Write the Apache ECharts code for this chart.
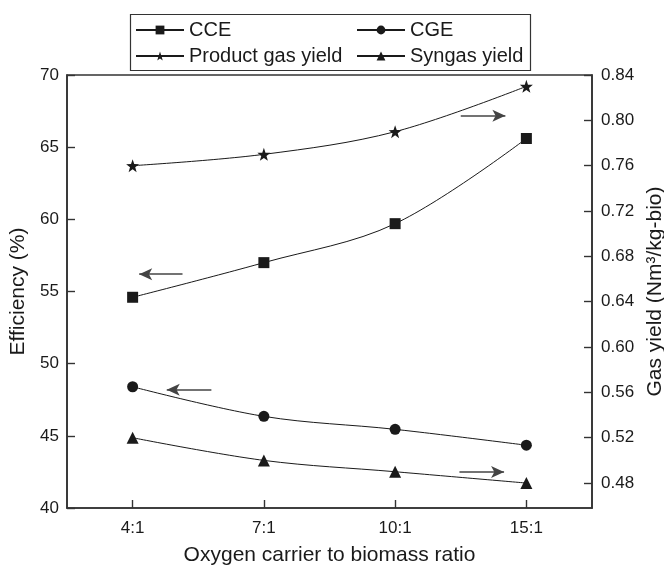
<!DOCTYPE html>
<html>
<head>
<meta charset="utf-8">
<script src="https://cdn.jsdelivr.net/npm/echarts@6/dist/echarts.min.js"></script>
<style>
html,body{margin:0;padding:0;background:#fff;}
#chart{width:664px;height:566px;}
</style>
</head>
<body>
<div id="chart"></div>
<script>
// ---- data ----
const categories = ['4:1', '7:1', '10:1', '15:1'];
const cce = [54.6, 57.0, 59.7, 65.6];            // Efficiency (%), left axis
const cge = [48.4, 46.35, 45.45, 44.35];         // Efficiency (%), left axis
const productGasYield = [0.76, 0.77, 0.79, 0.83]; // Nm3/kg-bio, right axis
const syngasYield = [0.52, 0.50, 0.49, 0.48];     // Nm3/kg-bio, right axis
const leftTicks = [40, 45, 50, 55, 60, 65, 70];
const rightTicks = [0.48, 0.52, 0.56, 0.60, 0.64, 0.68, 0.72, 0.76, 0.80, 0.84];
// annotation arrows: [xStart, xEnd, y] in data units (x = category index)
const arrowCCE = [0.38, 0.05, 56.2];
const arrowCGE = [0.60, 0.26, 48.2];
const arrowProduct = [2.50, 2.84, 0.804];
const arrowSyngas = [2.49, 2.83, 0.4898];

const starPath = 'path://M50 0 L61.76 33.82 L97.55 34.55 L69.02 56.18 L79.39 90.45 L50 70 L20.61 90.45 L30.98 56.18 L2.45 34.55 L38.24 33.82 Z';
const FONT = 'Liberation Sans';
const INK = '#1a1a1a';

function pairs(vals) { return vals.map((v, i) => [i, v]); }
function arrowLine(a) {
  return {
    silent: true,
    symbol: ['none', 'arrow'],
    symbolSize: [9, 13],
    label: { show: false },
    lineStyle: { color: '#444', width: 1.6, type: 'solid' },
    emphasis: { disabled: true },
    animation: false,
    data: [[{ coord: [a[0], a[2]] }, { coord: [a[1], a[2]] }]]
  };
}

const chart = echarts.init(document.getElementById('chart'));
const axisLine = { show: true, onZero: false, lineStyle: { color: '#333', width: 1.6 } };
const tickStyle = { inside: true, length: 8, lineStyle: { color: '#333', width: 1.4 } };

const option = {
  animation: false,
  backgroundColor: '#fff',
  textStyle: { fontFamily: FONT },
  grid: { left: 67, right: 72, top: 75, bottom: 58, containLabel: false, outerBoundsMode: 'none', show: true, borderColor: '#333', borderWidth: 1.6, backgroundColor: 'transparent' },
  legend: [
    {
      data: ['CCE', 'Product gas yield'],
      orient: 'vertical', left: 130, top: 15,
      itemWidth: 48, itemHeight: 11, itemGap: 6,
      textStyle: { fontFamily: FONT, fontSize: 20, color: INK },
      selectedMode: false
    },
    {
      data: ['CGE', 'Syngas yield'],
      orient: 'vertical', left: 351, top: 15,
      itemWidth: 48, itemHeight: 11, itemGap: 6,
      textStyle: { fontFamily: FONT, fontSize: 20, color: INK },
      selectedMode: false
    }
  ],
  graphic: [{
    type: 'rect', left: 128, top: 12, silent: true,
    shape: { width: 400, height: 56 },
    style: { fill: 'none', stroke: '#333', lineWidth: 1.2 }
  }],
  xAxis: {
    type: 'value', min: -0.5, max: 3.5,
    name: 'Oxygen carrier to biomass ratio', nameLocation: 'middle', nameGap: 37,
    nameTextStyle: { fontFamily: FONT, fontSize: 21, color: INK },
    axisLine: axisLine,
    axisTick: Object.assign({ customValues: [0, 1, 2, 3] }, tickStyle),
    axisLabel: { customValues: [0, 1, 2, 3], formatter: v => categories[v], fontFamily: FONT, fontSize: 17, color: INK, margin: 12 },
    splitLine: { show: false }
  },
  yAxis: [
    {
      type: 'value', min: 40, max: 70, interval: 5,
      name: 'Efficiency (%)', nameLocation: 'middle', nameGap: 35,
      nameTextStyle: { fontFamily: FONT, fontSize: 21, color: INK },
      axisLine: axisLine,
      axisTick: Object.assign({ customValues: leftTicks }, tickStyle),
      axisLabel: { customValues: leftTicks, fontFamily: FONT, fontSize: 17, color: INK, margin: 8 },
      splitLine: { show: false }
    },
    {
      type: 'value', min: 0.458, max: 0.84, position: 'right',
      name: 'Gas yield (Nm³/kg-bio)', nameLocation: 'middle', nameGap: 46, nameRotate: 90,
      nameTextStyle: { fontFamily: FONT, fontSize: 21, color: INK },
      axisLine: axisLine,
      axisTick: Object.assign({ customValues: rightTicks }, tickStyle),
      axisLabel: { customValues: rightTicks, formatter: v => v.toFixed(2), fontFamily: FONT, fontSize: 17, color: INK, margin: 9 },
      splitLine: { show: false }
    }
  ],
  series: [
    {
      name: 'CCE', type: 'line', yAxisIndex: 0, data: pairs(cce),
      smooth: 0.35, symbol: 'rect', symbolSize: 11,
      lineStyle: { color: INK, width: 1 }, itemStyle: { color: INK },
      markLine: arrowLine(arrowCCE)
    },
    {
      name: 'CGE', type: 'line', yAxisIndex: 0, data: pairs(cge),
      smooth: 0.35, symbol: 'circle', symbolSize: 11,
      lineStyle: { color: INK, width: 1 }, itemStyle: { color: INK },
      markLine: arrowLine(arrowCGE)
    },
    {
      name: 'Product gas yield', type: 'line', yAxisIndex: 1, data: pairs(productGasYield),
      smooth: 0.35, symbol: starPath, symbolSize: 13,
      lineStyle: { color: INK, width: 1 }, itemStyle: { color: INK },
      markLine: arrowLine(arrowProduct)
    },
    {
      name: 'Syngas yield', type: 'line', yAxisIndex: 1, data: pairs(syngasYield),
      smooth: 0.35, symbol: 'triangle', symbolSize: 12,
      lineStyle: { color: INK, width: 1 }, itemStyle: { color: INK },
      markLine: arrowLine(arrowSyngas)
    }
  ]
};
chart.setOption(option);
</script>
</body>
</html>
